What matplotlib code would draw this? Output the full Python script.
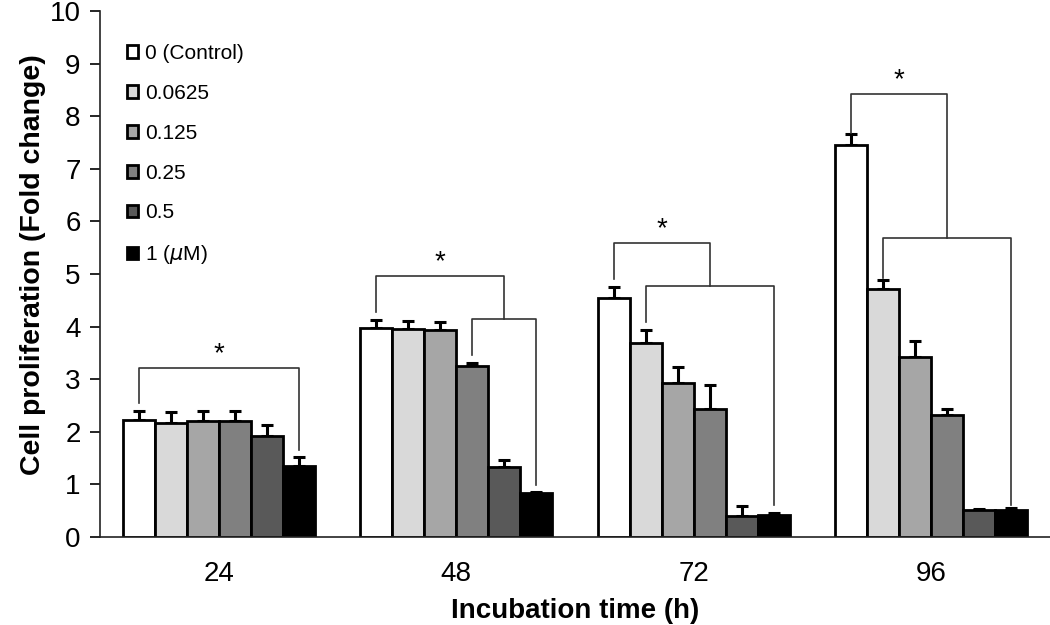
import numpy as np
import matplotlib.pyplot as plt

plt.rcParams['font.family'] = ['Liberation Sans', 'DejaVu Sans']

# data
tempos = ["24", "48", "72", "96"]
doses = ["0 (Control)", "0.0625", "0.125", "0.25", "0.5", "1 ($\\mu$M)"]
cores = ["#ffffff", "#d9d9d9", "#a6a6a6", "#808080", "#595959", "#000000"]

medias = [
    [2.22, 3.97, 4.54, 7.45],   # 0
    [2.17, 3.95, 3.69, 4.71],   # 0.0625
    [2.20, 3.93, 2.93, 3.43],   # 0.125
    [2.20, 3.26, 2.43, 2.32],   # 0.25
    [1.92, 1.34, 0.40, 0.51],   # 0.5
    [1.35, 0.83, 0.42, 0.52],   # 1
]
erros = [
    [0.18, 0.15, 0.21, 0.21],
    [0.20, 0.16, 0.24, 0.17],
    [0.20, 0.16, 0.31, 0.29],
    [0.20, 0.05, 0.46, 0.11],
    [0.20, 0.12, 0.18, 0.03],
    [0.17, 0.03, 0.03, 0.03],
]

# brackets de significancia (em unidades do eixo y)
# externo: topo, pe esquerdo; interno: barra inicial, altura, pe esquerdo, pe direito
ext_topo = [3.21, 4.96, 5.59, 8.42]
ext_pe = [2.55, 4.28, 4.90, 7.68]
int_inicio = [None, 3, 1, 1]
int_altura = [None, 4.14, 4.77, 5.68]
int_pe_esq = [None, 3.46, 4.09, 4.92]
int_pe_dir = [1.65, 0.99, 0.61, 0.60]

x = np.arange(len(tempos))
w = 0.135

fig = plt.figure(figsize=(10.5, 6.25), dpi=100)
ax = fig.add_axes([0.0952, 0.1408, 0.9048, 0.8416])

for j in range(len(doses)):
    pos = x + (j - 2.5) * w
    ax.bar(pos, medias[j], w, color=cores[j], edgecolor="black",
           linewidth=2.0, label=doses[j], zorder=2)
    ax.errorbar(pos, medias[j], yerr=[np.zeros(len(tempos)), erros[j]],
                fmt="none", ecolor="black", elinewidth=2.2, capsize=4.5,
                capthick=2.2, zorder=1)

def centro(i, j):
    return x[i] + (j - 2.5) * w

cor_br = "#333333"
for i in range(len(tempos)):
    esq = centro(i, 0)
    if int_inicio[i] is None:
        dir_ = centro(i, 5)
        ax.plot([esq, esq, dir_, dir_], [ext_pe[i], ext_topo[i], ext_topo[i], int_pe_dir[i]],
                color=cor_br, lw=1.2, zorder=3)
    else:
        a = centro(i, int_inicio[i])
        b = centro(i, 5)
        meio = (a + b) / 2
        ax.plot([a, a, b, b], [int_pe_esq[i], int_altura[i], int_altura[i], int_pe_dir[i]],
                color=cor_br, lw=1.2, zorder=3)
        ax.plot([esq, esq, meio, meio], [ext_pe[i], ext_topo[i], ext_topo[i], int_altura[i]],
                color=cor_br, lw=1.2, zorder=3)
        dir_ = meio
    ax.text((esq + dir_) / 2, ext_topo[i] + 0.02, "*", ha="center", va="bottom",
            fontsize=20)

ax.set_xlim(-0.5, 3.5)
ax.set_ylim(0, 10)
ax.set_yticks(range(0, 11))
ax.set_xticks(x)
ax.set_xticklabels(tempos)
ax.tick_params(axis="x", length=0, labelsize=20, pad=17)
ax.tick_params(axis="y", length=7, width=1.2, labelsize=20, direction="out", pad=7)
ax.spines["top"].set_visible(False)
ax.spines["right"].set_visible(False)
for s in ["left", "bottom"]:
    ax.spines[s].set_linewidth(1.2)
    ax.spines[s].set_color("#222222")

ax.set_xlabel("Incubation time (h)", fontsize=20, fontweight="bold", labelpad=8)
ax.set_ylabel("Cell proliferation (Fold change)", fontsize=20.5, fontweight="bold")
ax.yaxis.set_label_coords(-0.057, 0.517)

ax.legend(loc="upper left", bbox_to_anchor=(0.028, 0.937), frameon=False,
          fontsize=15, handlelength=0.55, handleheight=0.55, handletextpad=0.35,
          labelspacing=1.0, borderpad=0, borderaxespad=0)

fig.savefig("out.png", dpi=100)
